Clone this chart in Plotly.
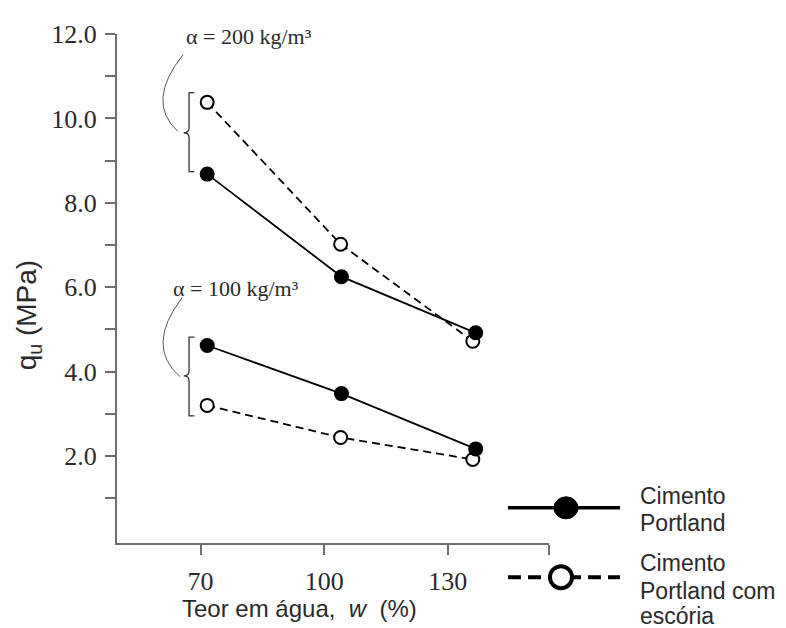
import plotly.graph_objects as go

# ---- data ----
w_portland = [71.6, 104.2, 136.8]
w_escoria = [71.6, 104.0, 136.1]
qu_portland_200 = [8.68, 6.25, 4.92]
qu_escoria_200 = [10.38, 7.02, 4.72]
qu_portland_100 = [4.62, 3.48, 2.17]
qu_escoria_100 = [3.20, 2.44, 1.92]

y_tickvals = [2, 4, 6, 8, 10, 12]
y_ticktext = ["2.0", "4.0", "6.0", "8.0", "10.0", "12.0"]
y_minor = [1, 3, 5, 7, 9, 11]
x_tickvals = [70, 100, 130]

AXIS = "#6e6e6e"
TXT = "#2a2a2a"

fig = go.Figure()

def solid(x, y):
    fig.add_trace(go.Scatter(x=x, y=y, mode="lines+markers",
                             line=dict(color="black", width=1.8),
                             marker=dict(symbol="circle", size=15, color="black"),
                             showlegend=False, hoverinfo="skip"))

def dashed(x, y):
    fig.add_trace(go.Scatter(x=x, y=y, mode="lines+markers",
                             line=dict(color="black", width=1.8, dash="8px,5px"),
                             marker=dict(symbol="circle", size=13, color="white",
                                         line=dict(color="black", width=2)),
                             showlegend=False, hoverinfo="skip"))

dashed(w_escoria, qu_escoria_200)
solid(w_portland, qu_portland_200)
dashed(w_escoria, qu_escoria_100)
solid(w_portland, qu_portland_100)

shapes = []
# braces
def brace(xs, xt, xi, ytop, ybot, ymid):
    d = (f"M {xi},{ytop} L {xs},{ytop} L {xs},{ymid+0.12} "
         f"Q {xs},{ymid} {xt},{ymid} Q {xs},{ymid} {xs},{ymid-0.12} "
         f"L {xs},{ybot} L {xi},{ybot}")
    shapes.append(dict(type="path", path=d, xref="x", yref="y",
                       line=dict(color="#333", width=1.3)))

brace(67.2, 65.9, 68.5, 10.61, 8.74, 9.66)
brace(67.2, 65.9, 68.5, 4.82, 2.95, 3.90)

# arcs from labels to braces
shapes.append(dict(type="path", path="M 65.73,11.51 Q 56.6,10.39 64.5,9.69",
                   xref="x", yref="y", line=dict(color="#555", width=1)))
shapes.append(dict(type="path", path="M 65.48,5.75 Q 56.5,4.60 65.0,3.88",
                   xref="x", yref="y", line=dict(color="#555", width=1)))

# custom legend (pixel geometry of the page, converted to paper fractions)
def px2paper_x(px):
    return (px - 117) / 432.0

def px2paper_y(py):
    return (543 - py) / 521.0

shapes.append(dict(type="line", xref="paper", yref="paper",
                   x0=px2paper_x(508), x1=px2paper_x(620),
                   y0=px2paper_y(507), y1=px2paper_y(507),
                   line=dict(color="black", width=3.5)))
shapes.append(dict(type="circle", xref="paper", yref="paper",
                   xsizemode="pixel", ysizemode="pixel",
                   xanchor=px2paper_x(566), yanchor=px2paper_y(507),
                   x0=-12, x1=12, y0=-11, y1=11,
                   fillcolor="black", line=dict(color="black", width=1)))
shapes.append(dict(type="line", xref="paper", yref="paper",
                   x0=px2paper_x(508), x1=px2paper_x(620),
                   y0=px2paper_y(578), y1=px2paper_y(578),
                   line=dict(color="black", width=4, dash="13px,7px")))
shapes.append(dict(type="circle", xref="paper", yref="paper",
                   xsizemode="pixel", ysizemode="pixel",
                   xanchor=px2paper_x(561), yanchor=px2paper_y(578),
                   x0=-11, x1=11, y0=-11, y1=11,
                   fillcolor="white", line=dict(color="black", width=4)))

annotations = []
serif = "Liberation Serif"
sans = "Liberation Sans"
annotations.append(dict(text="α = 200 kg/m³", x=px2paper_x(249), y=px2paper_y(25),
                        xref="paper", yref="paper", showarrow=False,
                        xanchor="center", yanchor="middle",
                        font=dict(family=serif, size=22, color=TXT)))
annotations.append(dict(text="α = 100 kg/m³", x=px2paper_x(236), y=px2paper_y(282),
                        xref="paper", yref="paper", showarrow=False,
                        xanchor="center", yanchor="middle",
                        font=dict(family=serif, size=22, color=TXT)))

legend_lines = [("Cimento", 495), ("Portland", 523), ("Cimento", 563),
                ("Portland com", 592), ("escória", 618)]
for t, py in legend_lines:
    annotations.append(dict(text=t, x=px2paper_x(638), y=px2paper_y(py),
                            xref="paper", yref="paper", showarrow=False,
                            xanchor="left", yanchor="middle",
                            font=dict(family=sans, size=23, color=TXT)))

annotations.append(dict(text="Teor em água,\u00a0\u00a0<i>w</i>\u00a0\u00a0(%)",
                        x=px2paper_x(299), y=px2paper_y(610),
                        xref="paper", yref="paper", showarrow=False,
                        xanchor="center", yanchor="middle",
                        font=dict(family=sans, size=24, color=TXT)))
annotations.append(dict(text="q<sub>u</sub> (MPa)", textangle=-90,
                        x=px2paper_x(28), y=px2paper_y(310),
                        xref="paper", yref="paper", showarrow=False,
                        xanchor="center", yanchor="middle",
                        font=dict(family=sans, size=28, color=TXT)))

# page body has an 8px margin, so the plot margins are reduced by 8px
fig.update_layout(
    width=786, height=628,
    margin=dict(l=109, r=245, t=14, b=93),
    paper_bgcolor="white", plot_bgcolor="white",
    showlegend=False,
    shapes=shapes,
    annotations=annotations,
    xaxis=dict(range=[49.7, 154.6], showgrid=False, zeroline=False,
               showline=True, linecolor=AXIS, linewidth=2,
               tickvals=x_tickvals, ticks="outside", ticklen=10,
               tickcolor=AXIS, tickwidth=2,
               ticklabelstandoff=4,
               minor=dict(tickvals=[154.5], ticks="outside", ticklen=10,
                          tickcolor=AXIS, tickwidth=2),
               tickfont=dict(family=serif, size=26, color=TXT)),
    yaxis=dict(range=[-0.06, 12], showgrid=False, zeroline=False,
               showline=True, linecolor=AXIS, linewidth=2,
               tickvals=y_tickvals, ticktext=y_ticktext,
               ticks="outside", ticklen=10, tickcolor=AXIS, tickwidth=2,
               ticklabelstandoff=3,
               minor=dict(tickvals=y_minor, ticks="outside", ticklen=10,
                          tickcolor=AXIS, tickwidth=2),
               tickfont=dict(family=serif, size=26, color=TXT)),
)

fig.write_html("out.html")
